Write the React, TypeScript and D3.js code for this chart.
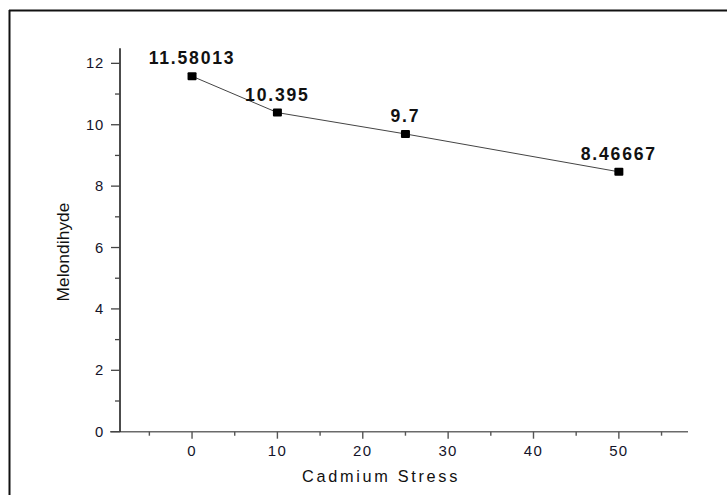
import React from "react";
import * as d3 from "d3";

const stress = [0, 10, 25, 50];
const mda = [11.58013, 10.395, 9.7, 8.46667];
const labels = ["11.58013", "10.395", "9.7", "8.46667"];
const xMajor = [0, 10, 20, 30, 40, 50];
const xMinor = [-5, 5, 15, 25, 35, 45, 55];
const yMajor = [0, 2, 4, 6, 8, 10, 12];
const yMinor = [1, 3, 5, 7, 9, 11];

export default function App() {
  const W = 727, H = 495;
  const x = d3.scaleLinear().domain([-8.44, 58.1]).range([120, 688]);
  const y = d3.scaleLinear().domain([0, 12.49]).range([431.7, 48.3]);
  const line = d3.line<number>().x((_, i) => x(stress[i])).y((d) => y(d));
  const font = "'Liberation Sans', Arial, sans-serif";
  const y0 = y(0);
  return (
    <svg width={W} height={H} style={{ position: "absolute", left: 0, top: 0, display: "block", background: "#fff" }} fontFamily={font}>
      <rect x={0} y={0} width={W} height={H} fill="#fff" />
      {/* frame */}
      <line x1={9.5} y1={10} x2={9.5} y2={H} stroke="#111" strokeWidth={2} />
      <line x1={9} y1={10.5} x2={W} y2={10.5} stroke="#111" strokeWidth={2} />
      {/* x axis */}
      <line x1={110} y1={y0} x2={688} y2={y0} stroke="#6a6a6a" strokeWidth={1.6} />
      {xMajor.map((v) => (
        <g key={"xm" + v}>
          <line x1={x(v)} x2={x(v)} y1={y0} y2={y0 + 7} stroke="#555" strokeWidth={1.4} />
          <text x={x(v)} y={456} textAnchor="middle" fontSize={15} fill="#14142a" letterSpacing={1.3}>{v}</text>
        </g>
      ))}
      {xMinor.map((v) => (
        <line key={"xn" + v} x1={x(v)} x2={x(v)} y1={y0} y2={y0 + 4} stroke="#555" strokeWidth={1.4} />
      ))}
      {/* y axis */}
      <line x1={120} y1={48.3} x2={120} y2={y0} stroke="#111" strokeWidth={1.5} />
      {yMajor.map((v) => (
        <g key={"ym" + v}>
          <line x1={111} x2={120} y1={y(v)} y2={y(v)} stroke="#444" strokeWidth={1.3} />
          <text x={104} y={y(v) + 5} textAnchor="end" fontSize={14.8} fill="#14142a" letterSpacing={0.8}>{v}</text>
        </g>
      ))}
      {yMinor.map((v) => (
        <line key={"yn" + v} x1={115} x2={120} y1={y(v)} y2={y(v)} stroke="#444" strokeWidth={1.3} />
      ))}
      {/* titles */}
      <text x={381} y={481.5} textAnchor="middle" fontSize={16.3} fill="#111" letterSpacing={2.7}>Cadmium Stress</text>
      <text transform="translate(68.6,252) rotate(-90)" textAnchor="middle" fontSize={17.3} fill="#111" letterSpacing={0.1}>Melondihyde</text>
      {/* line */}
      <path d={line(mda) || ""} fill="none" stroke="#444" strokeWidth={1} />
      {mda.map((v, i) => (
        <rect key={"p" + i} x={x(stress[i]) - 4.5} y={y(v) - 4} width={9} height={8} rx={1} fill="#000" />
      ))}
      {mda.map((v, i) => (
        <text key={"l" + i} x={x(stress[i])} y={y(v) - 12} textAnchor="middle" fontSize={17.6} fontWeight="bold" fill="#111" letterSpacing={1.8}>{labels[i]}</text>
      ))}
    </svg>
  );
}
